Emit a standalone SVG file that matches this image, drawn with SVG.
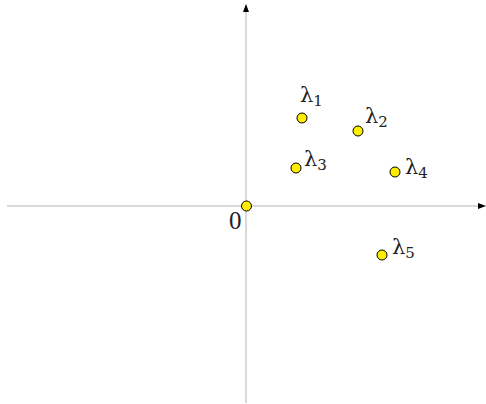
<svg xmlns="http://www.w3.org/2000/svg" width="486" height="404" viewBox="0 0 486 404">
<style>
.ax{stroke:#b3b3b3;stroke-width:1;fill:none}
.pt{fill:#ffee00;stroke:#000;stroke-width:1}
.lb{font-family:"DejaVu Serif","Liberation Serif",serif;font-size:21px;fill:#222}
.sb{font-size:15px}
</style>
<defs>
<marker id="ar" viewBox="0 0 8 6" refX="7" refY="3" markerWidth="8" markerHeight="6" orient="auto" markerUnits="userSpaceOnUse">
<path d="M0,0 L8,3 L0,6 Z" fill="#000"/>
</marker>
</defs>
<g id="connectors">
<line class="ax" x1="7" y1="206" x2="485" y2="206" marker-end="url(#ar)"/>
<line class="ax" x1="246" y1="403" x2="246" y2="5" marker-end="url(#ar)"/>
</g>
<g id="origin"><circle class="pt" cx="246.5" cy="206" r="5"/><text class="lb" x="229" y="229" style="font-family:'Liberation Serif',serif;font-size:25px">0</text></g>
<g id="l1"><circle class="pt" cx="302" cy="118" r="5"/><text class="lb" x="300" y="102">λ<tspan class="sb" dy="4">1</tspan></text></g>
<g id="l2"><circle class="pt" cx="358" cy="131" r="5"/><text class="lb" x="365" y="123">λ<tspan class="sb" dy="4">2</tspan></text></g>
<g id="l3"><circle class="pt" cx="296" cy="168" r="5"/><text class="lb" x="304" y="166">λ<tspan class="sb" dy="4">3</tspan></text></g>
<g id="l4"><circle class="pt" cx="395" cy="172" r="5"/><text class="lb" x="405" y="174">λ<tspan class="sb" dy="4">4</tspan></text></g>
<g id="l5"><circle class="pt" cx="382" cy="255" r="5"/><text class="lb" x="392" y="254">λ<tspan class="sb" dy="4">5</tspan></text></g>
</svg>
